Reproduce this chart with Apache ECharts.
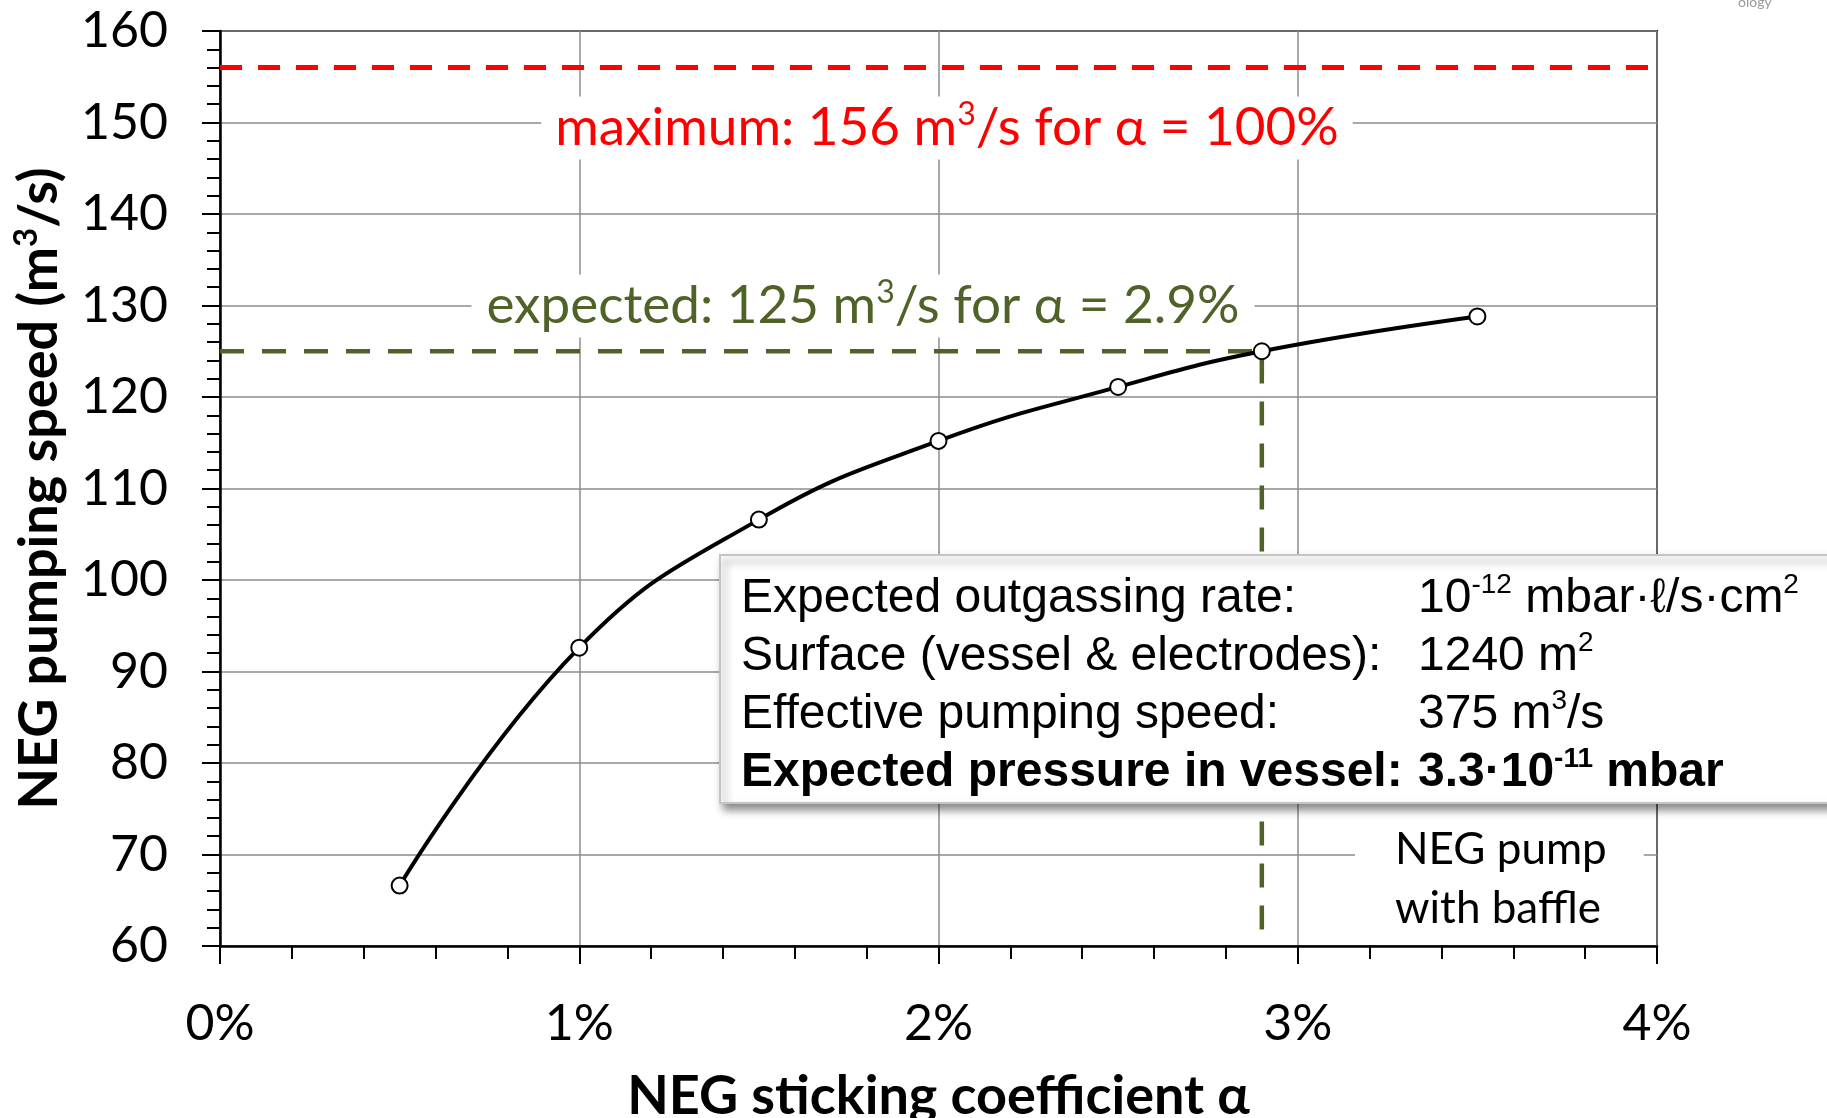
<!DOCTYPE html>
<html>
<head>
<meta charset="utf-8">
<script src="https://cdn.jsdelivr.net/npm/echarts@6/dist/echarts.min.js"></script>
<style>
  html, body { margin: 0; padding: 0; background: #fff; }
  #chart { width: 1827px; height: 1118px; }
</style>
</head>
<body>
<div id="chart"></div>
<script>
// sticking coefficient (%) and NEG pumping speed (m3/s)
const alpha = [0.5, 1.0, 1.5, 2.0, 2.5, 2.9, 3.5];
const speed = [66.6, 92.6, 106.6, 115.2, 121.1, 125.0, 128.8];

const maxSpeed = 156;
const expectedAlpha = 2.9;
const expectedSpeed = 125;

const boxLabels = [
    'Expected outgassing rate:',
    'Surface (vessel & electrodes):',
    'Effective pumping speed:',
    'Expected pressure in vessel:'
];
const boxValues = [
    '{n|10}{s|-12}{n| mbar·ℓ/s·cm}{s|2}',
    '{n|1240 m}{s|2}',
    '{n|375 m}{s|3}{n|/s}',
    '{b|3.3·10}{bs|-11}{b| mbar}'
];

const calibri = 'Lato, "Open Sans", sans-serif';
const arial = '"Liberation Sans", Arial, sans-serif';
const green = '#4f6228';

let chart = echarts.init(document.getElementById('chart'));

function supRich(size, supSize, color, weight) {
    return {
        t: { fontFamily: calibri, fontSize: size, fontWeight: weight || 'normal', fill: color, lineHeight: size + 6 },
        s: { fontFamily: calibri, fontSize: supSize, fontWeight: weight || 'normal', fill: color, lineHeight: supSize + 10, verticalAlign: 'top' }
    };
}

const boxRich = {
    n: { fontFamily: arial, fontSize: 48, fill: '#000', lineHeight: 56 },
    s: { fontFamily: arial, fontSize: 28, fill: '#000', lineHeight: 38, verticalAlign: 'top' },
    b: { fontFamily: arial, fontSize: 48, fontWeight: 'bold', fill: '#000', lineHeight: 56 },
    bs: { fontFamily: arial, fontSize: 28, fontWeight: 'bold', fill: '#000', lineHeight: 38, verticalAlign: 'top' }
};

const rowY = [599, 657, 715, 773];
let boxTexts = [];
boxLabels.forEach((lab, i) => {
    boxTexts.push({
        type: 'text', z: 21,
        style: {
            text: lab, x: 741, y: rowY[i], align: 'left', verticalAlign: 'middle',
            fontFamily: arial, fontSize: 48, fontWeight: i === 3 ? 'bold' : 'normal', fill: '#000'
        }
    });
    boxTexts.push({
        type: 'text', z: 21,
        style: {
            text: boxValues[i], x: 1418, y: rowY[i], align: 'left', verticalAlign: 'middle',
            rich: boxRich
        }
    });
});

chart.setOption({
    animation: false,
    backgroundColor: '#fff',
    grid: {
        left: 220, right: 170, top: 31, bottom: 172,
        outerBoundsMode: 'none', containLabel: false,
        show: true, borderColor: '#000', borderWidth: 2
    },
    xAxis: {
        type: 'value', min: 0, max: 4, interval: 1,
        name: 'NEG sticking coefficient α',
        nameLocation: 'middle', nameGap: 124,
        nameTextStyle: { fontFamily: calibri, fontSize: 54, fontWeight: 'bold', color: '#000' },
        axisLine: { show: true, onZero: false, lineStyle: { color: '#000', width: 2.5 } },
        axisTick: { show: true, length: 18, lineStyle: { color: '#000', width: 2 } },
        minorTick: { show: true, splitNumber: 5, length: 13, lineStyle: { color: '#000', width: 2 } },
        axisLabel: { fontFamily: calibri, fontSize: 50, color: '#000', margin: 53, formatter: v => v + '%' },
        splitLine: { show: true, lineStyle: { color: '#8c8c8c', width: 1.5 } }
    },
    yAxis: {
        type: 'value', min: 60, max: 160, interval: 10,
        name: '{t|NEG pumping speed (m}{s|3}{t|/s)}',
        nameLocation: 'middle', nameGap: 150,
        nameTextStyle: { rich: supRich(54, 33, '#000', 'bold') },
        axisLine: { show: true, onZero: false, lineStyle: { color: '#000', width: 2.5 } },
        axisTick: { show: true, length: 18, lineStyle: { color: '#000', width: 2 } },
        minorTick: { show: true, splitNumber: 5, length: 13, lineStyle: { color: '#000', width: 2 } },
        axisLabel: { fontFamily: calibri, fontSize: 50, color: '#000', margin: 52 },
        splitLine: { show: true, lineStyle: { color: '#8c8c8c', width: 1.5 } }
    },
    series: [
        {
            name: 'maximum', type: 'line', z: 3, symbol: 'none', silent: true,
            data: [[0, maxSpeed], [4, maxSpeed]],
            lineStyle: { color: '#ff0000', width: 5, type: [22, 16] }
        },
        {
            name: 'expected', type: 'line', z: 3, symbol: 'none', silent: true,
            data: [[0, expectedSpeed], [expectedAlpha, expectedSpeed], [expectedAlpha, 60]],
            lineStyle: { color: green, width: 4.5, type: [24, 18] }
        },
        {
            name: 'NEG pump with baffle', type: 'line', z: 5, smooth: 0.45,
            data: alpha.map((a, i) => [a, speed[i]]),
            symbol: 'circle', symbolSize: 16, showAllSymbol: true,
            lineStyle: { color: '#000', width: 4 },
            itemStyle: { color: '#fff', borderColor: '#000', borderWidth: 2 }
        }
    ],
    graphic: {
        elements: [
            {
                type: 'text', z: 20,
                style: {
                    text: '{t|maximum: ' + maxSpeed + ' m}{s|3}{t|/s for α = 100%}',
                    x: 947, y: 128, align: 'center', verticalAlign: 'middle',
                    backgroundColor: '#fff', padding: [2, 14],
                    rich: supRich(53, 32, '#ff0000')
                }
            },
            {
                type: 'text', z: 20,
                style: {
                    text: '{t|expected: ' + expectedSpeed + ' m}{s|3}{t|/s for α = ' + expectedAlpha + '%}',
                    x: 863, y: 306, align: 'center', verticalAlign: 'middle',
                    backgroundColor: '#fff', padding: [2, 15],
                    rich: supRich(53, 32, green)
                }
            },
            {
                type: 'text', z: 20,
                style: {
                    text: 'NEG pump\nwith baffle',
                    x: 1355, y: 879, align: 'left', verticalAlign: 'middle',
                    fontFamily: calibri, fontSize: 44, lineHeight: 59, fill: '#000',
                    backgroundColor: '#fff', padding: [0, 37, 0, 40]
                }
            },
            {
                type: 'rect', z: 20,
                shape: { x: 720, y: 555, width: 1140, height: 248 },
                style: {
                    fill: '#fff', stroke: '#c4c4c4', lineWidth: 2,
                    shadowBlur: 8, shadowOffsetX: 4, shadowOffsetY: 6, shadowColor: 'rgba(0,0,0,0.45)'
                }
            },
            ...boxTexts,
            {
                type: 'text', z: 20,
                style: { text: 'ology', x: 1738, y: -5, fontFamily: calibri, fontSize: 14, fill: '#999' }
            }
        ]
    }
});
</script>
</body>
</html>
